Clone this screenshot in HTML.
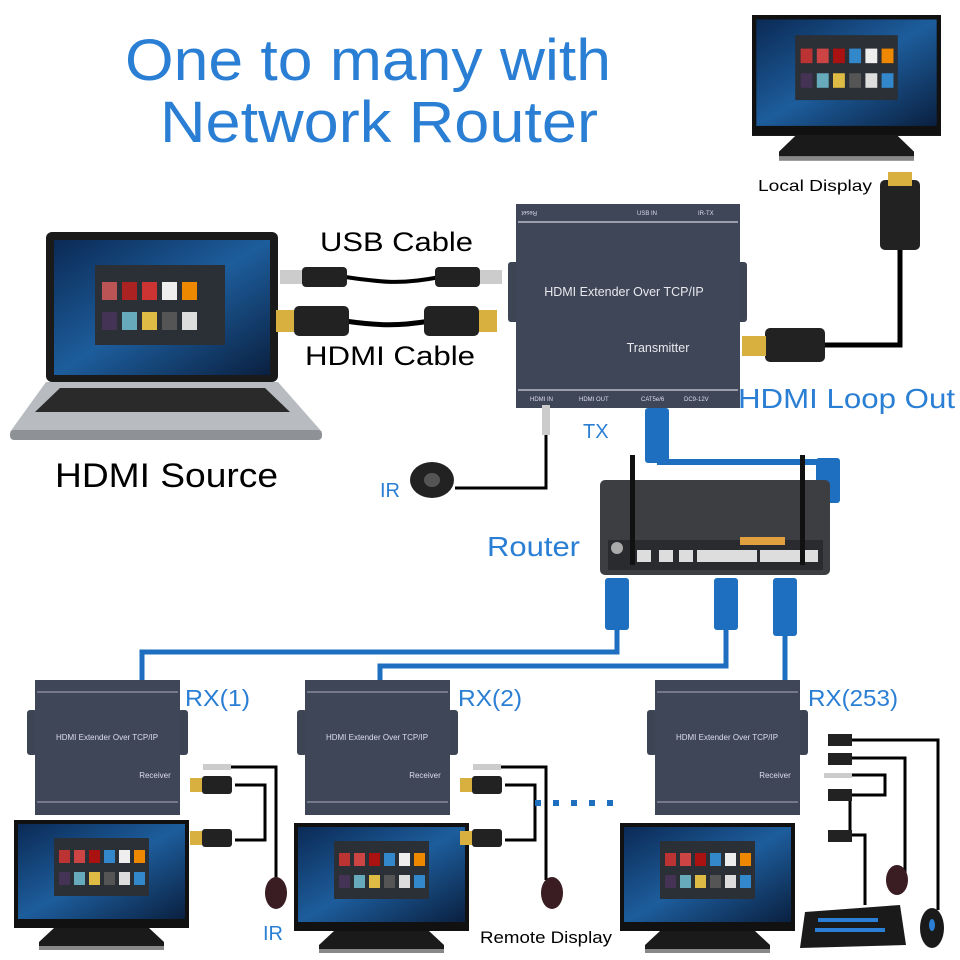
<!DOCTYPE html>
<html><head><meta charset="utf-8"><style>
body{margin:0;background:#fff}
svg{display:block}
text{font-family:"Liberation Sans",Arial,sans-serif}
</style></head><body>
<svg width="960" height="960" viewBox="0 0 960 960" xmlns="http://www.w3.org/2000/svg">
<defs>
<linearGradient id="scr" x1="0" y1="0" x2="1" y2="1">
<stop offset="0" stop-color="#0b2a55"/><stop offset="0.5" stop-color="#1d5d9c"/><stop offset="1" stop-color="#0a2040"/>
</linearGradient>
<g id="mon">
<rect x="0" y="0" width="175" height="108" fill="#111"/>
<rect x="4" y="4" width="167" height="95" fill="url(#scr)"/>
<rect x="40" y="18" width="95" height="58" fill="#2b2f36"/>
<g>
<rect x="45" y="30" width="11" height="13" fill="#b33"/><rect x="60" y="30" width="11" height="13" fill="#c44"/><rect x="75" y="30" width="11" height="13" fill="#a11"/><rect x="90" y="30" width="11" height="13" fill="#38c"/><rect x="105" y="30" width="11" height="13" fill="#eee"/><rect x="120" y="30" width="11" height="13" fill="#e80"/>
<rect x="45" y="52" width="11" height="13" fill="#435"/><rect x="60" y="52" width="11" height="13" fill="#6ab"/><rect x="75" y="52" width="11" height="13" fill="#db4"/><rect x="90" y="52" width="11" height="13" fill="#555"/><rect x="105" y="52" width="11" height="13" fill="#ddd"/><rect x="120" y="52" width="11" height="13" fill="#38c"/>
</g>
<path d="M40 108 L135 108 L150 122 L150 130 L25 130 L25 122 Z" fill="#1a1a1a"/>
<rect x="25" y="126" width="125" height="4" fill="#888"/>
</g>
<g id="rx">
<rect x="-8" y="30" width="10" height="45" rx="3" fill="#3d4555"/>
<rect x="143" y="30" width="10" height="45" rx="3" fill="#3d4555"/>
<rect x="0" y="0" width="145" height="135" fill="#3e4657"/>
<line x1="2" y1="12" x2="143" y2="12" stroke="#aab" stroke-width="1"/>
<line x1="2" y1="122" x2="143" y2="122" stroke="#aab" stroke-width="1"/>
<text x="72" y="60" font-size="8" fill="#dde" text-anchor="middle">HDMI Extender Over TCP/IP</text>
<text x="120" y="98" font-size="8" fill="#dde" text-anchor="middle">Receiver</text>
</g>
<g id="hdmi">
<rect x="0" y="-7" width="12" height="14" fill="#d8b040"/>
<rect x="12" y="-9" width="30" height="18" rx="3" fill="#222"/>
</g>
</defs>

<g lengthAdjust="spacingAndGlyphs">
<text x="125" y="80" font-size="58" fill="#2a7fd4" textLength="486" lengthAdjust="spacingAndGlyphs">One to many with</text>
<text x="160" y="142" font-size="58" fill="#2a7fd4" textLength="438" lengthAdjust="spacingAndGlyphs">Network Router</text>
</g>

<g transform="translate(752,15) scale(1.08,1.12)"><use href="#mon"/></g>
<text x="758" y="191" font-size="16" fill="#000" textLength="114" lengthAdjust="spacingAndGlyphs">Local Display</text>

<rect x="46" y="232" width="232" height="150" rx="6" fill="#1a1a1a"/>
<rect x="54" y="240" width="216" height="135" fill="url(#scr)"/>
<rect x="95" y="265" width="130" height="80" fill="#2b2f36"/>
<g><rect x="102" y="282" width="15" height="18" fill="#b55"/><rect x="122" y="282" width="15" height="18" fill="#a22"/><rect x="142" y="282" width="15" height="18" fill="#c33"/><rect x="162" y="282" width="15" height="18" fill="#eee"/><rect x="182" y="282" width="15" height="18" fill="#e80"/><rect x="102" y="312" width="15" height="18" fill="#435"/><rect x="122" y="312" width="15" height="18" fill="#6ab"/><rect x="142" y="312" width="15" height="18" fill="#db4"/><rect x="162" y="312" width="15" height="18" fill="#555"/><rect x="182" y="312" width="15" height="18" fill="#ddd"/></g>
<path d="M46 382 L278 382 L322 432 L10 432 Z" fill="#b8bbc0"/>
<path d="M60 388 L265 388 L290 412 L35 412 Z" fill="#2a2a2a"/>
<rect x="10" y="430" width="312" height="10" rx="4" fill="#8e9196"/>
<text x="55" y="487" font-size="34" fill="#000" textLength="223" lengthAdjust="spacingAndGlyphs">HDMI Source</text>

<text x="320" y="251" font-size="27" fill="#000" textLength="153" lengthAdjust="spacingAndGlyphs">USB Cable</text>
<text x="305" y="365" font-size="27" fill="#000" textLength="170" lengthAdjust="spacingAndGlyphs">HDMI Cable</text>
<path d="M345 277 C380 282 400 285 440 277" stroke="#000" stroke-width="4" fill="none"/>
<rect x="280" y="270" width="22" height="14" fill="#ccc"/><rect x="302" y="267" width="45" height="20" rx="4" fill="#222"/>
<rect x="435" y="267" width="45" height="20" rx="4" fill="#222"/><rect x="480" y="270" width="22" height="14" fill="#ccc"/>
<path d="M345 321 C380 326 400 326 430 321" stroke="#000" stroke-width="5" fill="none"/>
<rect x="276" y="310" width="18" height="22" fill="#d8b040"/><rect x="294" y="306" width="55" height="30" rx="5" fill="#222"/>
<rect x="424" y="306" width="55" height="30" rx="5" fill="#222"/><rect x="479" y="310" width="18" height="22" fill="#d8b040"/>

<rect x="508" y="262" width="12" height="60" rx="3" fill="#3d4555"/>
<rect x="735" y="262" width="12" height="60" rx="3" fill="#3d4555"/>
<rect x="516" y="204" width="224" height="204" fill="#3e4657"/>
<line x1="518" y1="222" x2="738" y2="222" stroke="#bbc" stroke-width="1.5"/>
<line x1="518" y1="390" x2="738" y2="390" stroke="#bbc" stroke-width="1.5"/>
<text x="624" y="296" font-size="12.5" fill="#e8e8ee" text-anchor="middle">HDMI Extender Over TCP/IP</text>
<text x="658" y="352" font-size="12.5" fill="#e8e8ee" text-anchor="middle">Transmitter</text>
<g font-size="6" fill="#dde"><text x="530" y="401">HDMI IN</text><text x="579" y="401">HDMI OUT</text><text x="641" y="401">CAT5e/6</text><text x="684" y="401">DC9-12V</text>
<text x="533" y="215" transform="rotate(180 535 213)">Reset</text><text x="637" y="215">USB IN</text><text x="698" y="215">IR-TX</text></g>

<path d="M900 245 L900 345 L815 345" stroke="#000" stroke-width="5" fill="none"/>
<rect x="880" y="180" width="40" height="70" rx="5" fill="#222"/><rect x="888" y="172" width="24" height="14" fill="#d8b040"/>
<rect x="765" y="328" width="60" height="34" rx="5" fill="#222"/><rect x="742" y="336" width="24" height="20" fill="#d8b040"/>
<text x="738" y="408" font-size="28" fill="#2a7fd4" textLength="217" lengthAdjust="spacingAndGlyphs">HDMI Loop Out</text>
<text x="583" y="438" font-size="20" fill="#2a7fd4">TX</text>

<path d="M546 420 L546 488 L455 488" stroke="#000" stroke-width="3" fill="none"/>
<rect x="542" y="405" width="8" height="30" fill="#ccc"/>
<ellipse cx="432" cy="480" rx="22" ry="18" fill="#222"/><ellipse cx="432" cy="480" rx="8" ry="7" fill="#555"/>
<text x="380" y="497" font-size="20" fill="#2a7fd4">IR</text>

<path d="M657 462 L827 462" stroke="#1e6fc0" stroke-width="6"/>
<rect x="645" y="408" width="24" height="55" rx="3" fill="#1e6fc0"/>
<rect x="816" y="458" width="24" height="45" rx="3" fill="#1e6fc0"/>

<rect x="600" y="480" width="230" height="95" rx="5" fill="#3c3e42"/>
<rect x="608" y="540" width="215" height="30" fill="#2a2b2e"/>
<g fill="#ddd"><rect x="637" y="550" width="14" height="12"/><rect x="659" y="550" width="14" height="12"/><rect x="679" y="550" width="14" height="12"/><rect x="697" y="550" width="60" height="12"/><rect x="760" y="550" width="58" height="12"/></g>
<rect x="740" y="537" width="45" height="8" fill="#e0a040"/>
<rect x="630" y="455" width="5" height="110" fill="#111"/><rect x="800" y="455" width="5" height="110" fill="#111"/>
<circle cx="617" cy="548" r="6" fill="#aaa"/>
<text x="487" y="556" font-size="28" fill="#2a7fd4" textLength="93" lengthAdjust="spacingAndGlyphs">Router</text>

<g stroke="#1e6fc0" stroke-width="5" fill="none">
<path d="M142 682 L142 652 L617 652 L617 625"/>
<path d="M380 682 L380 666 L726 666 L726 630"/>
<path d="M785 682 L785 630"/>
</g>
<g fill="#1e6fc0"><rect x="605" y="578" width="24" height="52" rx="3"/><rect x="714" y="578" width="24" height="52" rx="3"/><rect x="773" y="578" width="24" height="58" rx="3"/></g>

<g transform="translate(35,680)"><use href="#rx"/></g>
<g transform="translate(305,680)"><use href="#rx"/></g>
<g transform="translate(655,680)"><use href="#rx"/></g>
<text x="185" y="706" font-size="23" fill="#2a7fd4" textLength="65" lengthAdjust="spacingAndGlyphs">RX(1)</text>
<text x="458" y="706" font-size="23" fill="#2a7fd4" textLength="64" lengthAdjust="spacingAndGlyphs">RX(2)</text>
<text x="808" y="706" font-size="23" fill="#2a7fd4" textLength="90" lengthAdjust="spacingAndGlyphs">RX(253)</text>

<g transform="translate(14,820)"><use href="#mon"/></g>
<g transform="translate(294,823)"><use href="#mon"/></g>
<g transform="translate(620,823)"><use href="#mon"/></g>

<g stroke="#000" stroke-width="3" fill="none">
<path d="M230 767 L276 767 L276 880"/><path d="M235 785 L265 785 L265 840 L235 840"/>
<path d="M500 767 L546 767 L546 880"/><path d="M505 785 L535 785 L535 840 L505 840"/>
<path d="M850 740 L938 740 L938 910"/><path d="M850 758 L905 758 L905 875"/><path d="M850 775 L885 775 L885 795 L850 795 L850 830"/><path d="M850 835 L865 835 L865 905"/>
</g>
<rect x="203" y="764" width="28" height="6" fill="#ccc"/>
<g transform="translate(190,785)"><use href="#hdmi"/></g><g transform="translate(190,838)"><use href="#hdmi"/></g>
<rect x="473" y="764" width="28" height="6" fill="#ccc"/>
<g transform="translate(460,785)"><use href="#hdmi"/></g><g transform="translate(460,838)"><use href="#hdmi"/></g>
<g fill="#222"><rect x="828" y="734" width="24" height="12"/><rect x="828" y="753" width="24" height="12"/><rect x="828" y="789" width="24" height="12"/><rect x="828" y="830" width="24" height="12"/></g>
<rect x="824" y="773" width="28" height="5" fill="#ccc"/>
<ellipse cx="276" cy="893" rx="11" ry="16" fill="#3a1d22"/>
<ellipse cx="552" cy="893" rx="11" ry="16" fill="#3a1d22"/>
<ellipse cx="897" cy="880" rx="11" ry="15" fill="#3a1d22"/>
<g fill="#1e6fc0"><rect x="535" y="800" width="6" height="6"/><rect x="553" y="800" width="6" height="6"/><rect x="571" y="800" width="6" height="6"/><rect x="589" y="800" width="6" height="6"/><rect x="607" y="800" width="6" height="6"/></g>
<text x="263" y="940" font-size="20" fill="#2a7fd4">IR</text>
<text x="480" y="943" font-size="17" fill="#000" textLength="132" lengthAdjust="spacingAndGlyphs">Remote Display</text>

<path d="M805 912 L900 905 L906 945 L800 948 Z" fill="#1a1a1a"/>
<g fill="#2a7fd4"><rect x="818" y="918" width="60" height="4"/><rect x="815" y="928" width="70" height="4"/></g>
<ellipse cx="932" cy="928" rx="12" ry="20" fill="#1a1a1a"/><ellipse cx="932" cy="925" rx="3" ry="6" fill="#2a7fd4"/>
</svg>
</body></html>
